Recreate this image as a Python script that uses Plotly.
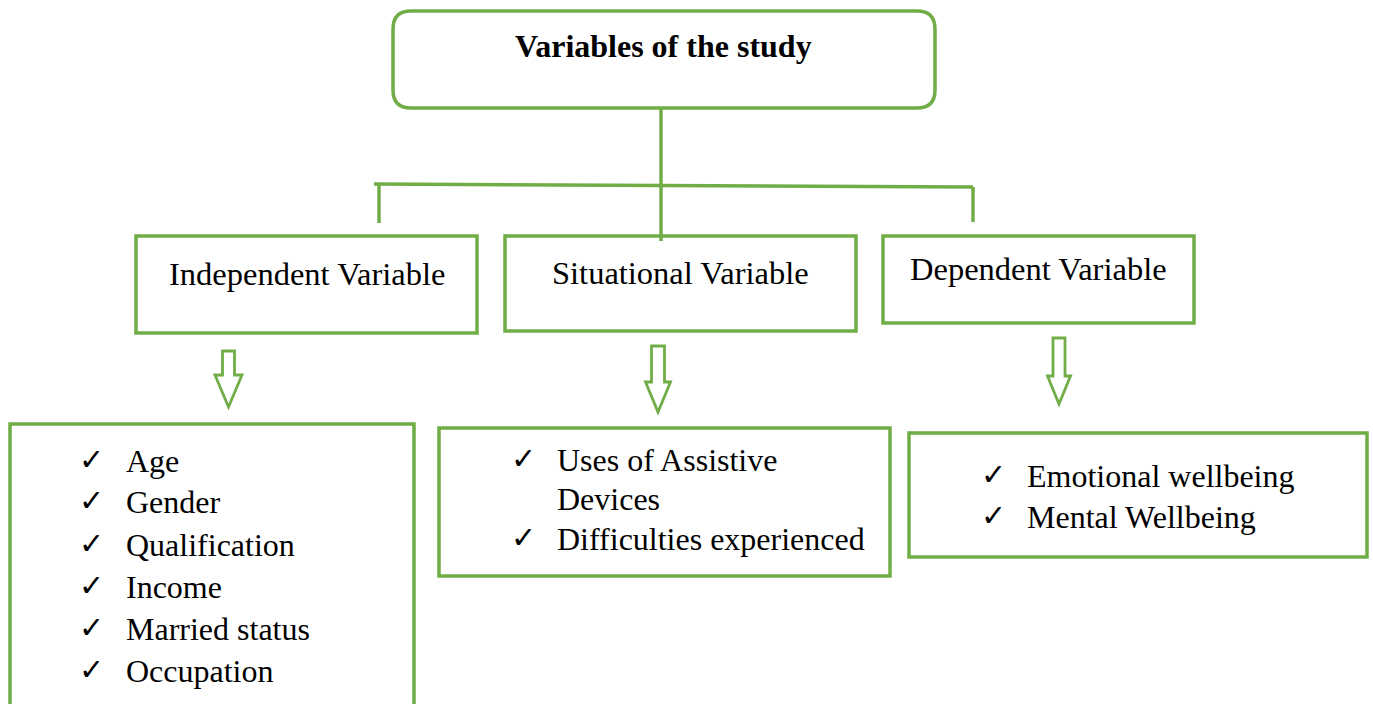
import plotly.graph_objects as go

GREEN = "#70AD47"
SERIF = "Liberation Serif, Times New Roman, serif"

title_text = "Variables of the study"
header_labels = ["Independent Variable", "Situational Variable", "Dependent Variable"]
independent_items = ["Age", "Gender", "Qualification", "Income", "Married status", "Occupation"]
situational_items = ["Uses of Assistive", "Devices", "Difficulties experienced"]
situational_checks = [True, False, True]
dependent_items = ["Emotional wellbeing", "Mental Wellbeing"]

W, H = 1373, 704

fig = go.Figure()
fig.add_trace(go.Scatter(x=[0, W], y=[0, H], mode="markers", marker=dict(opacity=0), hoverinfo="skip", showlegend=False))

shapes = []
LW = 3.5

def rect(x0, y0, x1, y1, lw=LW):
    shapes.append(dict(type="rect", xref="x", yref="y", x0=x0, y0=y0, x1=x1, y1=y1,
                       line=dict(color=GREEN, width=lw), fillcolor="rgba(0,0,0,0)"))

def line(x0, y0, x1, y1, lw=LW):
    shapes.append(dict(type="line", xref="x", yref="y", x0=x0, y0=y0, x1=x1, y1=y1,
                       line=dict(color=GREEN, width=lw)))

def rounded(x0, y0, x1, y1, r):
    p = (f"M {x0+r},{y0} L {x1-r},{y0} Q {x1},{y0} {x1},{y0+r} "
         f"L {x1},{y1-r} Q {x1},{y1} {x1-r},{y1} L {x0+r},{y1} Q {x0},{y1} {x0},{y1-r} "
         f"L {x0},{y0+r} Q {x0},{y0} {x0+r},{y0} Z")
    shapes.append(dict(type="path", xref="x", yref="y", path=p,
                       line=dict(color=GREEN, width=LW), fillcolor="rgba(0,0,0,0)"))

def arrow(cx, top, head_y, tip, shaft_w, head_w, lw=2.8):
    s = shaft_w / 2
    h = head_w / 2
    p = (f"M {cx-s},{top} L {cx+s},{top} L {cx+s},{head_y} L {cx+h},{head_y} "
         f"L {cx},{tip} L {cx-h},{head_y} L {cx-s},{head_y} Z")
    shapes.append(dict(type="path", xref="x", yref="y", path=p,
                       line=dict(color=GREEN, width=lw), fillcolor="white"))

# top box
rounded(393, 11, 935, 108, 18)
# connectors
line(661, 108, 661, 241)
line(374, 184, 973, 187)
line(379, 184, 379, 223)
line(973, 187, 973, 222)
# header boxes
rect(136, 236, 477, 333)
rect(505, 236, 856, 331)
rect(883, 236, 1194, 323)
# arrows
arrow(228.5, 351, 375, 407, 12, 27)
arrow(658, 346, 382, 412, 13, 25)
arrow(1059, 338, 376, 404, 12, 23)
# bottom boxes
rect(10, 424, 414, 715)
rect(439, 428, 890, 576)
rect(909, 433, 1367, 557)

ann = []
def text(x, y, s, size=32, anchor="center", bold=False, family=SERIF):
    ann.append(dict(x=x, y=y, xref="x", yref="y", text=f"<b>{s}</b>" if bold else s,
                    showarrow=False, xanchor=anchor, yanchor="middle",
                    font=dict(family=family, size=size, color="black")))

text(663, 46, title_text, size=32, bold=True)
text(307, 274, header_labels[0], size=32.5)
text(680, 273, header_labels[1], size=32.5)
text(1038, 269, header_labels[2], size=32.5)

CHECK = "✓"
CHK_FONT = "DejaVu Sans, sans-serif"
CHK_SIZE = 30

ind_y = [461, 502, 545, 587, 629, 671]
for s, y in zip(independent_items, ind_y):
    text(77, y - 2, CHECK, size=CHK_SIZE, anchor="left", family=CHK_FONT)
    text(124, y, s, anchor="left")

sit_y = [460, 499, 539]
for s, c, y in zip(situational_items, situational_checks, sit_y):
    if c:
        text(509, y - 2, CHECK, size=CHK_SIZE, anchor="left", family=CHK_FONT)
    text(555, y, s, anchor="left")

dep_y = [476, 517]
for s, y in zip(dependent_items, dep_y):
    text(979, y - 2, CHECK, size=CHK_SIZE, anchor="left", family=CHK_FONT)
    text(1025, y, s, anchor="left")

fig.update_layout(
    width=W, height=H, autosize=False,
    margin=dict(l=0, r=0, t=0, b=0),
    paper_bgcolor="white", plot_bgcolor="white",
    xaxis=dict(range=[0, W], visible=False, fixedrange=True),
    yaxis=dict(range=[H, 0], visible=False, fixedrange=True),
    shapes=shapes, annotations=ann, showlegend=False,
)
fig.write_html("out.html", config={"displayModeBar": False},
               post_script="document.body.style.margin='0';document.body.style.overflow='hidden';")
